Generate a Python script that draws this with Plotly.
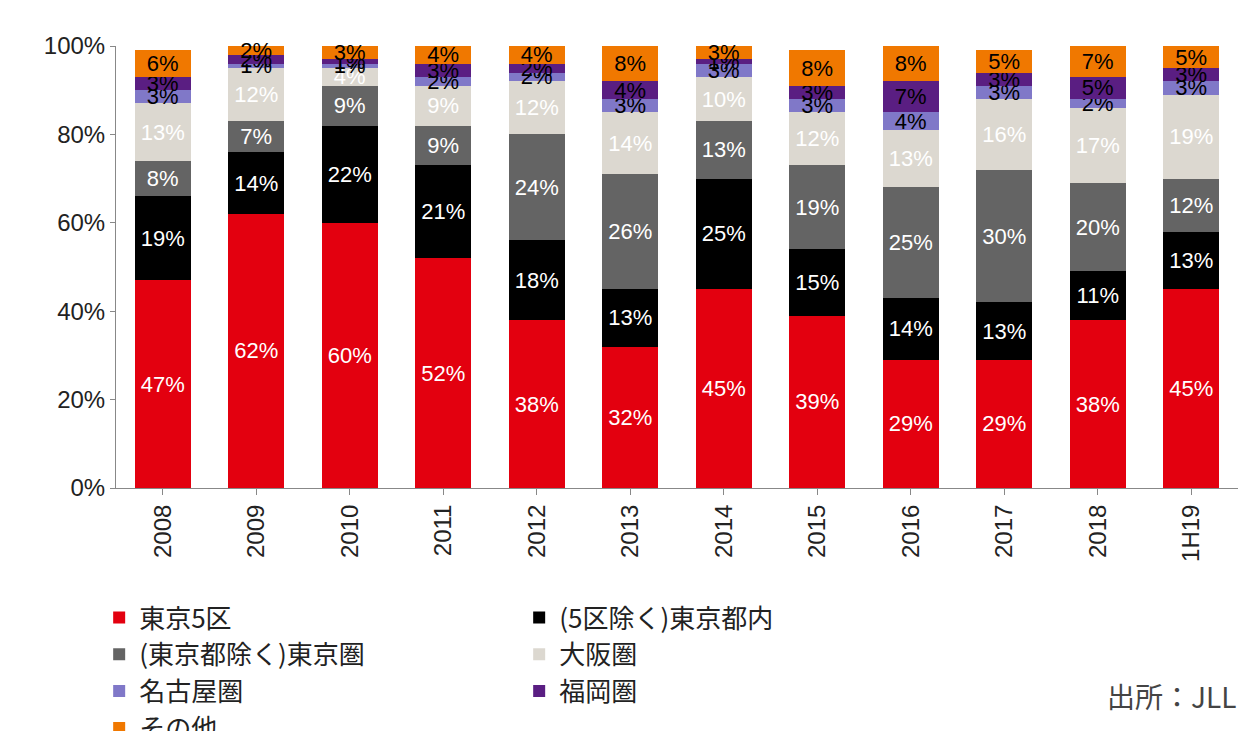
import plotly.graph_objects as go

years = ["2008", "2009", "2010", "2011", "2012", "2013", "2014", "2015", "2016", "2017", "2018", "1H19"]

tokyo5 = [47, 62, 60, 52, 38, 32, 45, 39, 29, 29, 38, 45]
tokyo_other = [19, 14, 22, 21, 18, 13, 25, 15, 14, 13, 11, 13]
tokyo_area = [8, 7, 9, 9, 24, 26, 13, 19, 25, 30, 20, 12]
osaka = [13, 12, 4, 9, 12, 14, 10, 12, 13, 16, 17, 19]
nagoya = [3, 1, 1, 2, 2, 3, 3, 3, 4, 3, 2, 3]
fukuoka = [3, 2, 1, 3, 2, 4, 1, 3, 7, 3, 5, 3]
others = [6, 2, 3, 4, 4, 8, 3, 8, 8, 5, 7, 5]

series = [
    ("東京5区", tokyo5, "#e3000f", "white"),
    ("(5区除く)東京都内", tokyo_other, "#000000", "white"),
    ("(東京都除く)東京圏", tokyo_area, "#646464", "white"),
    ("大阪圏", osaka, "#dcd8d0", "white"),
    ("名古屋圏", nagoya, "#8078c8", "black"),
    ("福岡圏", fukuoka, "#5a1e82", "black"),
    ("その他", others, "#f07800", "black"),
]

fig = go.Figure()
for name, vals, color, tcol in series:
    fig.add_trace(go.Bar(
        x=years, y=vals, name=name, marker=dict(color=color, line=dict(width=0)),
        text=[f"{v}%" for v in vals], textposition="inside", insidetextanchor="middle",
        textfont=dict(color=tcol, size=22, family="Liberation Sans"),
        textangle=0, cliponaxis=False,
    ))

fig.update_layout(
    barmode="stack", bargap=0.4,
    width=1260, height=731,
    paper_bgcolor="white", plot_bgcolor="white",
    margin=dict(l=108, r=30, t=38, b=251, autoexpand=False),
    font=dict(family="Liberation Sans", size=24, color="#222"),
    uniformtext=dict(minsize=22, mode="show"),
    xaxis=dict(tickangle=-90, showline=True, linecolor="#888", ticks="outside",
               tickcolor="#888", ticklen=6, tickfont=dict(size=24)),
    yaxis=dict(range=[0, 100], dtick=20, ticksuffix="%", showline=True, linecolor="#888",
               ticks="outside", tickcolor="#888", showgrid=False, tickfont=dict(size=24)),
    legend=dict(orientation="h", x=-0.015, y=-0.24, xanchor="left", yanchor="top",
                entrywidth=375, entrywidthmode="pixels", traceorder="normal",
                font=dict(size=26, family="Noto Sans CJK JP"), itemwidth=30,
                tracegroupgap=0),
    annotations=[dict(text="出所：JLL", x=1.0, y=-0.42, xref="paper", yref="paper",
                      xanchor="right", yanchor="top", showarrow=False,
                      font=dict(size=28, color="#444", family="Noto Sans CJK JP"))],
)

fig.write_html("out.html")
